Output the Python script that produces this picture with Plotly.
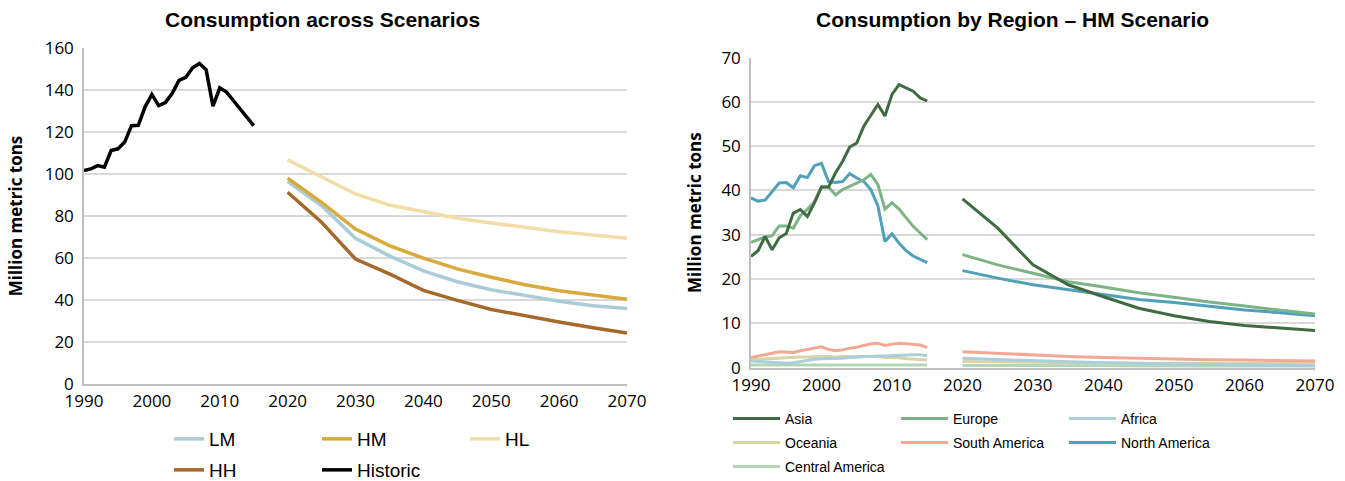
import plotly.graph_objects as go
from plotly.subplots import make_subplots

# ---- Left panel: total consumption, historic and scenarios (million metric tons)
YEARS_HIST = list(range(1990, 2016))
HISTORIC = [101.6, 102.4, 104.0, 103.2, 111.2, 112.0, 115.2, 123.0, 123.2, 132.0,
            137.9, 132.6, 134.0, 138.4, 144.6, 146.0, 150.6, 152.6, 149.6, 132.3,
            141.0, 139.0, 135.0, 131.0, 127.0, 123.0]

YEARS_PROJ = list(range(2020, 2071, 5))
LM = [96.5, 84.9, 69.4, 61.0, 53.9, 48.7, 44.9, 42.0, 39.4, 37.3, 36.0]
HM = [98.0, 86.5, 73.8, 65.9, 59.9, 54.8, 50.8, 47.3, 44.4, 42.4, 40.4]
HL = [106.7, 98.5, 90.5, 85.2, 82.0, 78.9, 76.7, 74.4, 72.5, 71.0, 69.4]
HH = [91.3, 77.0, 59.5, 52.4, 44.6, 39.8, 35.5, 32.3, 29.5, 26.8, 24.3]

# ---- Right panel: consumption by region, HM scenario (million metric tons)
ASIA_HIST = [25.1, 26.4, 29.6, 26.6, 29.3, 30.3, 34.9, 35.7, 34.1, 37.2,
             40.8, 40.8, 44.0, 46.6, 49.8, 50.7, 54.5, 57.1, 59.4, 56.8,
             61.7, 63.9, 63.2, 62.4, 60.9, 60.2]
EUROPE_HIST = [28.3, 28.9, 29.5, 29.8, 32.0, 32.0, 31.5, 34.3, 35.7, 37.5,
               40.8, 40.8, 39.0, 40.2, 40.9, 41.7, 42.4, 43.6, 41.3, 35.8,
               37.2, 35.8, 33.8, 31.9, 30.4, 28.9]
NAMERICA_HIST = [38.3, 37.6, 37.8, 39.8, 41.7, 41.8, 40.6, 43.3, 42.9, 45.6,
                 46.1, 42.0, 41.8, 42.0, 43.8, 42.8, 42.0, 40.2, 36.5, 28.5,
                 30.2, 28.1, 26.4, 25.2, 24.5, 23.7]
SAMERICA_HIST = [2.3, 2.6, 3.0, 3.3, 3.6, 3.5, 3.4, 3.8, 4.1, 4.3,
                 4.7, 4.1, 3.8, 4.0, 4.4, 4.6, 5.0, 5.4, 5.5, 5.0,
                 5.3, 5.5, 5.4, 5.3, 5.1, 4.5]
AFRICA_HIST = [1.5, 1.4, 1.3, 1.2, 1.1, 1.0, 1.1, 1.4, 1.7, 1.9,
               2.0, 2.0, 2.0, 2.1, 2.3, 2.4, 2.5, 2.5, 2.6, 2.6,
               2.7, 2.7, 2.8, 2.9, 2.9, 2.7]
OCEANIA_HIST = [1.8, 1.9, 2.0, 2.1, 2.2, 2.3, 2.3, 2.4, 2.4, 2.5,
                2.5, 2.5, 2.4, 2.5, 2.5, 2.6, 2.6, 2.6, 2.5, 2.3,
                2.3, 2.2, 2.0, 1.9, 1.8, 1.7]
CAMERICA_HIST = [0.6, 0.6, 0.6, 0.6, 0.5, 0.5, 0.5, 0.5, 0.5, 0.6,
                 0.6, 0.6, 0.6, 0.6, 0.6, 0.6, 0.6, 0.6, 0.6, 0.6,
                 0.6, 0.6, 0.6, 0.6, 0.6, 0.6]

ASIA_PROJ = [38.1, 31.5, 23.2, 18.7, 16.0, 13.4, 11.7, 10.4, 9.5, 8.9, 8.4]
EUROPE_PROJ = [25.5, 23.2, 21.3, 19.4, 18.2, 16.9, 15.9, 14.8, 13.9, 13.0, 12.1]
NAMERICA_PROJ = [21.9, 20.2, 18.7, 17.6, 16.4, 15.4, 14.7, 13.8, 13.0, 12.4, 11.7]
SAMERICA_PROJ = [3.6, 3.2, 2.8, 2.5, 2.3, 2.1, 1.9, 1.8, 1.7, 1.6, 1.5]
AFRICA_PROJ = [2.1, 1.8, 1.5, 1.3, 1.1, 0.9, 0.8, 0.7, 0.6, 0.5, 0.4]
OCEANIA_PROJ = [1.4, 1.3, 1.2, 1.1, 1.1, 1.0, 1.0, 0.9, 0.9, 0.9, 0.9]
CAMERICA_PROJ = [0.5, 0.5, 0.4, 0.4, 0.4, 0.3, 0.3, 0.3, 0.3, 0.2, 0.2]

X_TICKS = list(range(1990, 2071, 10))
Y_TICKS_LEFT = list(range(0, 161, 20))
Y_TICKS_RIGHT = list(range(0, 71, 10))

W, H = 1345, 481
TICK_FONT = dict(family="Open Sans, sans-serif", size=17, color="#000000")
TITLE_FONT = dict(family="Open Sans, sans-serif", size=17, color="#000000")
HEAD_FONT = dict(family="Liberation Sans, Arial, sans-serif", size=21, color="#000000")
GRID = "#d9d9d9"
AXIS = "#bfbfbf"

fig = make_subplots(rows=1, cols=2)

scenario_style = [
    ("LM", LM, "#a9cdd8", "legend"),
    ("HM", HM, "#d9a93b", "legend"),
    ("HL", HL, "#f3dca6", "legend"),
    ("HH", HH, "#a5692b", "legend2"),
]
for name, vals, color, leg in scenario_style:
    fig.add_trace(go.Scatter(x=YEARS_PROJ, y=vals, name=name, mode="lines",
                             line=dict(color=color, width=3.5), legend=leg),
                  row=1, col=1)
fig.add_trace(go.Scatter(x=YEARS_HIST, y=HISTORIC, name="Historic", mode="lines",
                         line=dict(color="#000000", width=3.5), legend="legend2"),
              row=1, col=1)

regions = [
    ("Oceania", OCEANIA_HIST, OCEANIA_PROJ, "#d9d3a6", "legend4"),
    ("Central America", CAMERICA_HIST, CAMERICA_PROJ, "#b5d5b7", "legend5"),
    ("Africa", AFRICA_HIST, AFRICA_PROJ, "#a8cfdb", "legend3"),
    ("South America", SAMERICA_HIST, SAMERICA_PROJ, "#f2a893", "legend4"),
    ("North America", NAMERICA_HIST, NAMERICA_PROJ, "#4fa0b9", "legend4"),
    ("Europe", EUROPE_HIST, EUROPE_PROJ, "#7db486", "legend3"),
    ("Asia", ASIA_HIST, ASIA_PROJ, "#3e6b41", "legend3"),
]
legend_rank = {"Asia": 1, "Europe": 2, "Africa": 3, "Oceania": 4,
               "South America": 5, "North America": 6, "Central America": 7}
for name, hist, proj, color, leg in regions:
    # a None between the historic and projected runs leaves the gap in the line
    xs = YEARS_HIST + [None] + YEARS_PROJ
    ys = hist + [None] + proj
    fig.add_trace(go.Scatter(x=xs, y=ys, name=name, mode="lines",
                             line=dict(color=color, width=3), legend=leg,
                             legendrank=legend_rank[name]),
                  row=1, col=2)

axis_common = dict(showline=True, linecolor=AXIS, linewidth=1.5, ticks="",
                   tickfont=TICK_FONT, zeroline=False)
fig.update_xaxes(range=[1990, 2070], tickvals=X_TICKS, showgrid=False,
                 ticklabelstandoff=1, **axis_common)
fig.update_yaxes(showgrid=True, gridcolor=GRID, gridwidth=1.5,
                 ticklabelstandoff=5, **axis_common)

fig.update_layout(
    xaxis=dict(domain=[84 / W, 627 / W]),
    xaxis2=dict(domain=[751 / W, 1315 / W]),
    yaxis=dict(domain=[1 - 384 / H, 1 - 48 / H], range=[0, 160], tickvals=Y_TICKS_LEFT,
               title=dict(text="<b>Million metric tons</b>", standoff=18, font=TITLE_FONT)),
    yaxis2=dict(domain=[1 - 367.6 / H, 1 - 57.6 / H], range=[0, 70], tickvals=Y_TICKS_RIGHT,
                title=dict(text="<b>Million metric tons</b>", standoff=15, font=TITLE_FONT)),
)

left_legend = dict(orientation="h", xanchor="left", yanchor="middle",
                   entrywidth=103, entrywidthmode="pixels", bgcolor="rgba(0,0,0,0)",
                   font=dict(family="Liberation Sans, Arial, sans-serif", size=19, color="#000"))
right_legend = dict(orientation="h", xanchor="left", yanchor="middle",
                    entrywidth=106, entrywidthmode="pixels", bgcolor="rgba(0,0,0,0)",
                    itemwidth=47,
                    font=dict(family="Liberation Sans Narrow, Liberation Sans, Arial, sans-serif",
                              size=14, color="#000"))

fig.update_layout(
    width=W, height=H,
    margin=dict(l=0, r=0, t=0, b=0, autoexpand=False),
    paper_bgcolor="#ffffff", plot_bgcolor="#ffffff",
    legend=dict(x=169 / W, y=1 - 439 / H, **left_legend),
    legend2=dict(x=169 / W, y=1 - 470 / H, **left_legend),
    legend3=dict(x=728 / W, y=1 - 419 / H, **right_legend),
    legend4=dict(x=728 / W, y=1 - 443 / H, **right_legend),
    legend5=dict(x=728 / W, y=1 - 467 / H, **right_legend),
    annotations=[
        dict(text="<b>Consumption across Scenarios</b>", x=322 / W, y=1 - 19 / H,
             xref="paper", yref="paper", showarrow=False, xanchor="center", yanchor="middle",
             font=HEAD_FONT),
        dict(text="<b>Consumption by Region – HM Scenario</b>", x=1012 / W, y=1 - 19 / H,
             xref="paper", yref="paper", showarrow=False, xanchor="center", yanchor="middle",
             font=HEAD_FONT),
    ],
)

fig.write_html("out.html")
